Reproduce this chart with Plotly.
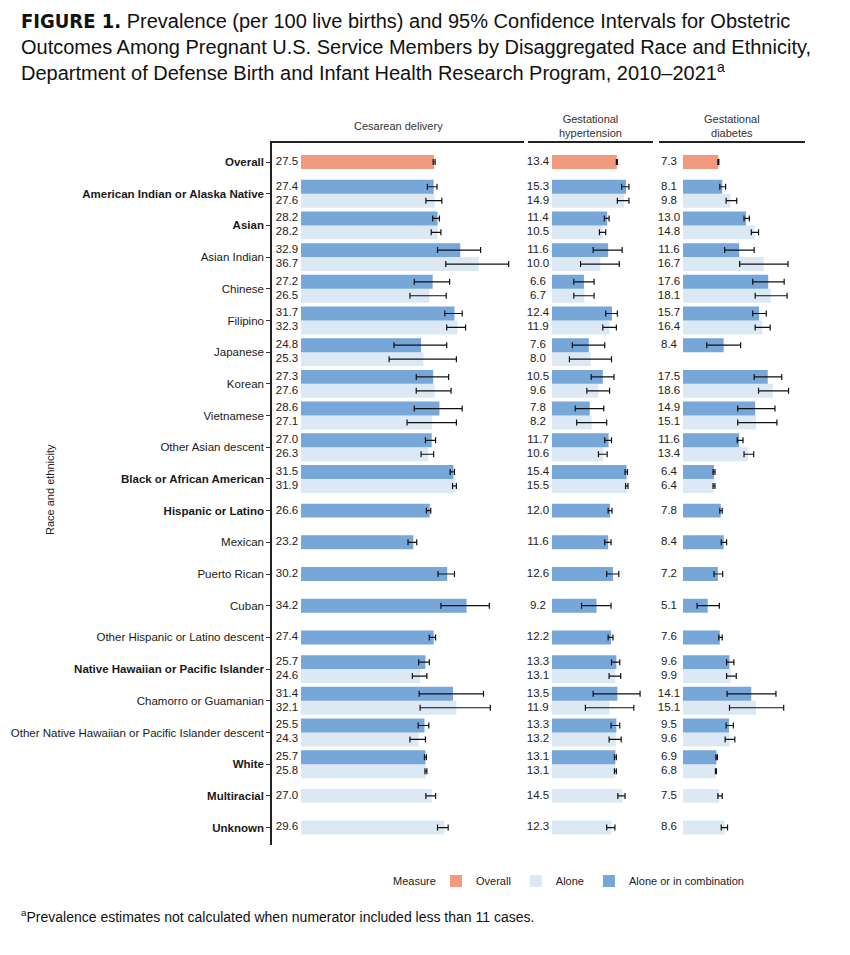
import plotly.graph_objects as go

categories = [
    "Overall",
    "American Indian or Alaska Native",
    "Asian",
    "Asian Indian",
    "Chinese",
    "Filipino",
    "Japanese",
    "Korean",
    "Vietnamese",
    "Other Asian descent",
    "Black or African American",
    "Hispanic or Latino",
    "Mexican",
    "Puerto Rican",
    "Cuban",
    "Other Hispanic or Latino descent",
    "Native Hawaiian or Pacific Islander",
    "Chamorro or Guamanian",
    "Other Native Hawaiian or Pacific Islander descent",
    "White",
    "Multiracial",
    "Unknown",
]
bold_categories = {
    "Overall", "American Indian or Alaska Native", "Asian", "Black or African American",
    "Hispanic or Latino", "Native Hawaiian or Pacific Islander", "White", "Multiracial", "Unknown",
}
outcomes = ["Cesarean delivery", "Gestational<br>hypertension", "Gestational<br>diabetes"]

# overall row, one value per outcome
overall_value = [27.5, 13.4, 7.3]
overall_lo = [27.3, 13.3, 7.2]
overall_hi = [27.7, 13.5, 7.4]

N = None
# cesarean delivery
cesarean_combo = [N, 27.4, 28.2, 32.9, 27.2, 31.7, 24.8, 27.3, 28.6, 27.0, 31.5, 26.6, 23.2, 30.2, 34.2, 27.4, 25.7, 31.4, 25.5, 25.7, N, N]
cesarean_combo_lo = [N, 26.1, 27.2, 28.2, 23.4, 29.7, 19.2, 23.8, 23.4, 25.7, 30.8, 25.9, 22.1, 28.3, 28.9, 26.5, 24.3, 24.4, 24.2, 25.5, N, N]
cesarean_combo_hi = [N, 28.1, 28.6, 37.1, 30.7, 33.3, 30.1, 30.5, 33.3, 27.8, 31.7, 26.8, 23.9, 31.7, 38.9, 27.8, 26.5, 37.7, 26.4, 25.9, N, N]
cesarean_alone = [N, 27.6, 28.2, 36.7, 26.5, 32.3, 25.3, 27.6, 27.1, 26.3, 31.9, N, N, N, N, N, 24.6, 32.1, 24.3, 25.8, 27.0, 29.6]
cesarean_alone_lo = [N, 25.8, 26.9, 29.9, 22.5, 30.1, 18.2, 23.8, 21.9, 24.8, 31.3, N, N, N, N, N, 23.0, 24.6, 22.5, 25.6, 25.8, 28.2]
cesarean_alone_hi = [N, 29.1, 28.9, 42.9, 30.0, 34.0, 32.1, 31.0, 32.1, 27.4, 32.1, N, N, N, N, N, 26.0, 39.1, 25.7, 26.0, 27.8, 30.4]

# gestational hypertension
hypertension_combo = [N, 15.3, 11.4, 11.6, 6.6, 12.4, 7.6, 10.5, 7.8, 11.7, 15.4, 12.0, 11.6, 12.6, 9.2, 12.2, 13.3, 13.5, 13.3, 13.1, N, N]
hypertension_combo_lo = [N, 14.4, 10.8, 8.5, 4.5, 11.1, 4.2, 8.1, 4.8, 10.9, 15.1, 11.6, 10.9, 11.3, 6.1, 11.6, 12.3, 8.5, 12.2, 12.9, N, N]
hypertension_combo_hi = [N, 15.9, 11.8, 14.5, 8.7, 13.5, 10.9, 12.8, 10.7, 12.3, 15.6, 12.4, 12.2, 13.8, 12.2, 12.6, 14.0, 18.2, 14.0, 13.3, N, N]
hypertension_alone = [N, 14.9, 10.5, 10.0, 6.7, 11.9, 8.0, 9.6, 8.2, 10.6, 15.5, N, N, N, N, N, 13.1, 11.9, 13.2, 13.1, 14.5, 12.3]
hypertension_alone_lo = [N, 13.5, 9.8, 5.9, 4.5, 10.5, 3.6, 7.2, 5.1, 9.6, 15.2, N, N, N, N, N, 11.8, 6.9, 11.8, 12.9, 13.6, 11.3]
hypertension_alone_hi = [N, 15.9, 11.1, 13.9, 8.7, 13.3, 12.3, 11.9, 11.3, 11.4, 15.7, N, N, N, N, N, 14.2, 16.9, 14.3, 13.3, 15.1, 13.0]

# gestational diabetes
diabetes_combo = [N, 8.1, 13.0, 11.6, 17.6, 15.7, 8.4, 17.5, 14.9, 11.6, 6.4, 7.8, 8.4, 7.2, 5.1, 7.6, 9.6, 14.1, 9.5, 6.9, N, N]
diabetes_combo_lo = [N, 7.6, 12.6, 8.6, 14.4, 14.4, 4.9, 14.7, 11.3, 11.2, 6.2, 7.6, 7.9, 6.4, 2.9, 7.4, 9.0, 9.1, 8.9, 6.8, N, N]
diabetes_combo_hi = [N, 8.8, 13.7, 14.7, 20.9, 17.2, 11.9, 20.4, 19.0, 12.4, 6.6, 8.1, 9.0, 8.2, 7.5, 8.1, 10.5, 19.2, 10.4, 7.1, N, N]
diabetes_alone = [N, 9.8, 14.8, 16.7, 18.1, 16.4, N, 18.6, 15.1, 13.4, 6.4, N, N, N, N, N, 9.9, 15.1, 9.6, 6.8, 7.5, 8.6]
diabetes_alone_lo = [N, 8.9, 14.1, 11.7, 14.9, 14.9, N, 15.6, 11.3, 12.6, 6.2, N, N, N, N, N, 9.0, 9.6, 8.7, 6.7, 7.2, 7.9]
diabetes_alone_hi = [N, 11.1, 15.6, 21.7, 21.5, 18.0, N, 21.8, 19.4, 14.6, 6.6, N, N, N, N, N, 11.0, 20.8, 10.7, 6.9, 8.1, 9.2]

combo_series = [
    (cesarean_combo, cesarean_combo_lo, cesarean_combo_hi),
    (hypertension_combo, hypertension_combo_lo, hypertension_combo_hi),
    (diabetes_combo, diabetes_combo_lo, diabetes_combo_hi),
]
alone_series = [
    (cesarean_alone, cesarean_alone_lo, cesarean_alone_hi),
    (hypertension_alone, hypertension_alone_lo, hypertension_alone_hi),
    (diabetes_alone, diabetes_alone_lo, diabetes_alone_hi),
]

COL_OVERALL = "#F29A7E"
COL_ALONE = "#DCE9F5"
COL_COMBO = "#77A7D8"
SANS = "Liberation Sans, Arial, sans-serif"
BAR_W = 0.44
OFF = 0.22
LABEL_X = -2.9

# page body has an 8px margin, so the figure is laid out 8px up/left of the target
W, H = 842, 947
L, T, B, R = 264, 135, 110, 45
PW, PH = W - L - R, H - T - B


def px(x):
    return (x - 8 - L) / PW


def py(y):
    return (H - B - (y - 8)) / PH


n = len(categories)
paired = [
    any(s[0][i] is not None for s in combo_series) and any(s[0][i] is not None for s in alone_series)
    for i in range(n)
]

fig = go.Figure()


def add_series(xref, vals, lo, hi, ys, color, name, show, rank):
    fig.add_trace(go.Bar(
        x=vals, y=ys, orientation="h", width=BAR_W, base=0,
        marker=dict(color=color, line=dict(width=0)),
        error_x=dict(type="data", symmetric=False,
                     array=[h - v for v, h in zip(vals, hi)],
                     arrayminus=[v - l for v, l in zip(vals, lo)],
                     color="#111111", thickness=1.2, width=3),
        xaxis=xref, yaxis="y", name=name, legendgroup=name,
        showlegend=show, legendrank=rank, hoverinfo="skip",
    ))
    fig.add_trace(go.Scatter(
        x=[LABEL_X] * len(vals), y=ys, mode="text",
        text=[f"{v:.1f}" for v in vals],
        textfont=dict(family=SANS, size=11.5, color="#222222"),
        cliponaxis=False,
        xaxis=xref, yaxis="y", showlegend=False, hoverinfo="skip",
    ))


for p, xref in enumerate(["x", "x2", "x3"]):
    first = p == 0
    add_series(xref, [overall_value[p]], [overall_lo[p]], [overall_hi[p]], [0],
               COL_OVERALL, "Overall", first, 1)

    for series, name, color, sign, rank in [
        (alone_series[p], "Alone", COL_ALONE, 1, 2),
        (combo_series[p], "Alone or in combination", COL_COMBO, -1, 3),
    ]:
        vals, lo, hi = series
        idx = [i for i in range(n) if vals[i] is not None]
        ys = [i + sign * OFF if paired[i] else i for i in idx]
        add_series(xref, [vals[i] for i in idx], [lo[i] for i in idx], [hi[i] for i in idx],
                   ys, color, name, first, rank)

tick_text = [f"<b>{c}</b>" if c in bold_categories else c for c in categories]

xaxis_common = dict(side="top", showline=True, linecolor="#222222", linewidth=1.5,
                    showgrid=False, zeroline=False, showticklabels=False, ticks="",
                    anchor="y", fixedrange=True)

fig.update_layout(
    width=W, height=H,
    margin=dict(l=L, r=R, t=T, b=B, autoexpand=False),
    plot_bgcolor="white", paper_bgcolor="white",
    barmode="overlay",
    font=dict(family=SANS, color="#222222"),
    xaxis=dict(domain=[0, 0.4728], range=[-6.0, 46.07], **xaxis_common),
    xaxis2=dict(domain=[0.4803, 0.7148], range=[-4.96, 20.87], **xaxis_common),
    xaxis3=dict(domain=[0.7261, 1.0], range=[-4.96, 25.2], **xaxis_common),
    yaxis=dict(
        range=[21.55, -0.6], tickvals=list(range(n)), ticktext=tick_text,
        showline=True, linecolor="#222222", linewidth=1.5, mirror=False,
        ticks="outside", ticklen=4, tickcolor="#333333", showgrid=False, zeroline=False,
        tickfont=dict(family=SANS, size=11.5, color="#1a1a1a"), fixedrange=True,
    ),
    legend=dict(
        orientation="h", x=px(436), xanchor="left", y=py(881), yanchor="middle",
        font=dict(family=SANS, size=11, color="#222222"),
        traceorder="normal", itemclick=False,
    ),
)

# legend title drawn beside the keys
fig.add_annotation(
    text="Measure", xref="paper", yref="paper", x=px(438), y=py(881),
    xanchor="right", yanchor="middle", showarrow=False,
    font=dict(family=SANS, size=11, color="#222222"),
)

# facet strip labels
for xref, label in zip(["x", "x2", "x3"], outcomes):
    fig.add_annotation(
        text=label, xref=f"{xref} domain", yref="paper", x=0.5, y=py(126),
        yanchor="middle", showarrow=False,
        font=dict(family=SANS, size=11, color="#333333"),
    )

# y axis title
fig.add_annotation(
    text="Race and ethnicity", xref="paper", yref="paper", x=px(42), y=py(490),
    textangle=-90, showarrow=False, font=dict(family=SANS, size=11, color="#222222"),
)

# figure title
fig.add_annotation(
    text=("<span style=\"font-family:'DejaVu Sans Condensed'\"><b>FIGURE 1.</b></span> "
          "Prevalence (per 100 live births) and 95% Confidence Intervals for Obstetric<br>"
          "Outcomes Among Pregnant U.S. Service Members by Disaggregated Race and Ethnicity,<br>"
          "Department of Defense Birth and Infant Health Research Program, 2010–2021<sup>a</sup>"),
    xref="paper", yref="paper", x=px(19), y=py(7),
    xanchor="left", yanchor="top", align="left", showarrow=False,
    font=dict(family=SANS, size=20, color="#111111"),
)

# footnote
fig.add_annotation(
    text="<sup>a</sup>Prevalence estimates not calculated when numerator included less than 11 cases.",
    xref="paper", yref="paper", x=px(19), y=py(916),
    xanchor="left", yanchor="middle", showarrow=False,
    font=dict(family=SANS, size=14, color="#111111"),
)

fig.write_html("out.html")
